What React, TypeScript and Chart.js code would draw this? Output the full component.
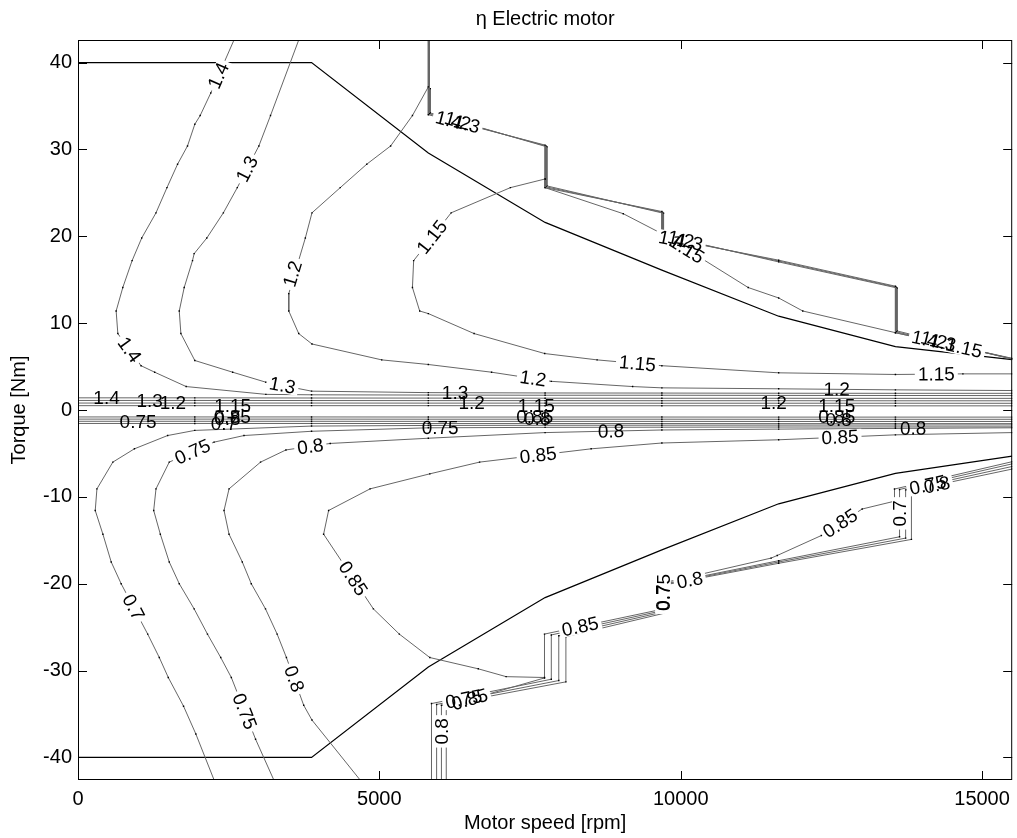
import React, { useEffect, useRef } from 'react';
import { Chart, registerables } from 'chart.js';

Chart.register(...registerables);

const FONT = '"Liberation Sans", Arial, Helvetica, sans-serif';

const titleText = 'η Electric motor';
const xTitle = 'Motor speed [rpm]';
const yTitle = 'Torque [Nm]';

const xTicks = [0, 5000, 10000, 15000];
const yTicks = [-40, -30, -20, -10, 0, 10, 20, 30, 40];
const speedRange = [0, 15500];
const torqueRange = [-42.6, 42.6];

// max torque envelope
const envTop = [[0, 40], [3875, 40], [5812.5, 29.6], [7750, 21.6], [9687.5, 16.1], [11625, 10.8], [13562.5, 7.3], [15500, 5.8]];
const envBottom = [[0, -40], [3875, -40], [5812.5, -29.6], [7750, -21.6], [9687.5, -16.1], [11625, -10.8], [13562.5, -7.3], [15500, -5.3]];

// motor-side contours
const c14 = [[2588, 42.6], [2203, 36.5], [2027, 33.9], [1938, 32.9], [1817, 30.4], [1652, 28.3], [1476, 25.6], [1294, 22.7], [1057, 19.8], [898, 17.2], [743, 14.1], [633, 11.4], [661, 8.8], [1046, 5.1], [1272, 4.35], [1795, 2.7], [3117, 1.8], [3875, 1.75], [5812.5, 1.72], [7750, 1.7], [9687.5, 1.7], [11625, 1.68], [13562.5, 1.67], [15500, 1.66]];
const c13 = [[3662, 42.6], [3194, 33.9], [3001, 30.4], [2643, 25.6], [2412, 22.7], [2137, 19.8], [1927, 18.0], [1900, 17.2], [1762, 14.1], [1680, 11.4], [1707, 8.8], [1938, 5.7], [2566, 4.35], [3117, 3.2], [3875, 2.17], [5812.5, 2.0], [7750, 1.96], [9687.5, 1.95], [11625, 1.93], [13562.5, 1.92], [15500, 1.92]];
const c12 = [[5812.5, 37.2], [5549, 33.9], [5187, 30.4], [4791, 28.3], [4351, 25.6], [3882, 22.7], [3772, 19.8], [3497, 13.4], [3497, 11.4], [3662, 8.8], [3882, 7.6], [5039, 5.77], [5812.5, 5.24], [6862, 4.35], [7853, 3.3], [9202, 2.7], [9687.5, 2.55], [11625, 2.44], [13562.5, 2.32], [15500, 2.24]];
const c115 = [[7750, 26.6], [7174, 25.6], [6191, 22.7], [5569, 17.2], [5549, 14.1], [5669, 11.4], [5812.5, 11.1], [6572, 8.8], [7743, 6.5], [8613, 5.77], [9687.5, 5.1], [11625, 4.28], [13562.5, 4.09], [14682, 4.16], [15500, 4.16]];
const c115b = [[7750, 26.6], [7750, 25.6], [9047, 22.6], [9687.5, 20.3], [11120, 14.1], [11625, 12.9], [12025, 11.4], [13562.5, 8.9], [15500, 5.9]];
const s14 = [[5812.5, 42.6], [5812.5, 34.0], [7750, 30.5], [7750, 25.6], [9687.5, 22.85], [9687.5, 19.9], [11625, 17.25], [13562.5, 14.25], [13562.5, 8.9], [15500, 5.95]];
const s13 = [[5830, 42.6], [5830, 34.1], [7765, 30.4], [7765, 25.7], [9700, 22.75], [9700, 20.0], [11625, 17.15], [13575, 14.15], [13575, 9.0], [15500, 5.9]];
const s12 = [[5845, 37.0], [5845, 34.2], [7780, 30.3], [7780, 25.8], [9715, 22.65], [9715, 20.1], [11625, 17.05], [13590, 14.05], [13590, 9.1], [15500, 5.85]];
const bu14 = [[0, 1.4], [1937.5, 1.4], [3875, 1.38], [5812.5, 1.37], [7750, 1.36], [9687.5, 1.35], [11625, 1.35], [13562.5, 1.34], [15500, 1.34]];
const bu13 = [[0, 1.1], [1937.5, 1.1], [3875, 1.09], [5812.5, 1.08], [7750, 1.08], [9687.5, 1.07], [11625, 1.07], [13562.5, 1.06], [15500, 1.06]];
const bu12 = [[0, 0.8], [1937.5, 0.8], [3875, 0.8], [5812.5, 0.79], [7750, 0.79], [9687.5, 0.78], [11625, 0.78], [13562.5, 0.78], [15500, 0.77]];
const bu115 = [[0, 0.5], [1937.5, 0.5], [3875, 0.5], [5812.5, 0.5], [7750, 0.49], [9687.5, 0.49], [11625, 0.49], [13562.5, 0.48], [15500, 0.48]];

// generator-side contours
const bd085 = [[0, -0.8], [1937.5, -0.8], [3875, -0.8], [5812.5, -0.81], [7750, -0.81], [9687.5, -0.81], [11625, -0.82], [13562.5, -0.82], [15500, -0.82]];
const bd08 = [[0, -1.05], [1937.5, -1.05], [3875, -1.05], [5812.5, -1.06], [7750, -1.06], [9687.5, -1.06], [11625, -1.07], [13562.5, -1.07], [15500, -1.07]];
const bd075 = [[0, -1.3], [1937.5, -1.3], [3875, -1.3], [5812.5, -1.31], [7750, -1.31], [9687.5, -1.31], [11625, -1.32], [13562.5, -1.32], [15500, -1.32]];
const bd07 = [[0, -1.55], [1937.5, -1.55], [3875, -1.55], [5812.5, -1.56], [7750, -1.56], [9687.5, -1.56], [11625, -1.57], [13562.5, -1.57], [15500, -1.57]];
const c07 = [[2258, -42.6], [1955, -37.3], [1751, -34.1], [1498, -30.8], [1349, -28.5], [1156, -25.8], [716, -20.0], [551, -17.5], [413, -14.3], [286, -11.57], [314, -9.08], [578, -6.0], [936, -4.47], [1487, -2.94], [1937.5, -2.35], [3875, -1.85], [5812.5, -1.78], [7750, -1.76], [9687.5, -1.75], [11625, -1.74], [13562.5, -1.73], [15500, -1.72]];
const c075 = [[3249, -42.6], [2946, -37.9], [2544, -30.8], [2368, -28.5], [2148, -25.8], [1927, -22.9], [1680, -20.0], [1514, -17.5], [1366, -14.3], [1256, -11.57], [1294, -9.08], [1514, -6.0], [2258, -3.7], [2754, -2.94], [3875, -2.45], [5812.5, -2.05], [7750, -2.0], [9687.5, -1.98], [11625, -1.96], [13562.5, -1.95], [15500, -1.94]];
const c08 = [[4681, -42.6], [3882, -35.7], [3745, -34.0], [3458, -28.5], [3304, -25.8], [3111, -22.9], [2875, -20.0], [2726, -17.5], [2506, -14.3], [2423, -11.57], [2506, -9.08], [3029, -6.0], [3450, -4.6], [4185, -3.85], [5812.5, -3.25], [7750, -2.6], [9687.5, -2.3], [11625, -2.2], [13562.5, -2.12], [15500, -2.05]];
const c085 = [[15500, -2.6], [13562.5, -2.86], [11625, -3.43], [9687.5, -3.8], [8514, -4.47], [6663, -6.0], [5837, -7.35], [4846, -9.08], [4158, -11.57], [4075, -14.3], [4901, -22.9], [5331, -25.8], [5837, -28.5], [6641, -29.8], [7103, -30.7], [7740, -30.8], [7740, -25.8], [9685, -22.95], [9685, -19.95], [11500, -17.05], [11602, -16.75], [12334, -14.45], [13011, -11.4], [13547, -10.5], [13547, -9.1], [15500, -5.95]];
const t07 = [[5865, -42.6], [5865, -33.8], [7853, -31.0], [7853, -25.9], [9700, -23.1], [9700, -20.05], [11625, -17.35], [13631, -14.6], [13631, -9.15], [15500, -6.2]];
const t075 = [[5950, -42.6], [5950, -33.9], [7977, -31.15], [7977, -26.0], [9712, -23.25], [9712, -20.1], [11625, -17.5], [13732, -14.75], [13732, -9.2], [15500, -6.5]];
const t08 = [[6030, -42.6], [6030, -34.0], [8095, -31.3], [8095, -26.1], [9725, -23.4], [9725, -20.15], [11625, -17.65], [13828, -14.9], [13828, -9.25], [15500, -6.8]];
const t085b = [[6110, -42.6], [6110, -34.1], [7740, -30.85]];

const contourLines: [string, number[][]][] = [
  ['c14', c14], ['c13', c13], ['c12', c12], ['c115', c115], ['c115b', c115b],
  ['s14', s14], ['s13', s13], ['s12', s12],
  ['bu14', bu14], ['bu13', bu13], ['bu12', bu12], ['bu115', bu115],
  ['bd085', bd085], ['bd08', bd08], ['bd075', bd075], ['bd07', bd07],
  ['c07', c07], ['c075', c075], ['c08', c08], ['c085', c085],
  ['t07', t07], ['t075', t075], ['t08', t08], ['t085b', t085b],
];

// contour labels
const labelText = ['1.4', '1.4', '1.3', '1.3', '1.2', '1.2', '1.2', '1.15', '1.15', '1.15', '1.15',
  '1.4', '1.2', '1.3', '1.4', '1.2', '1.3', '1.4', '1.2', '1.3', '1.15',
  '1.4', '1.3', '1.2', '1.15', '1.3', '1.2', '1.15', '1.2', '1.15',
  '0.75', '0.85', '0.8', '0.7', '0.75', '0.85', '0.8', '0.85', '0.8', '0.8', '0.8',
  '0.7', '0.75', '0.75', '0.8', '0.8', '0.85', '0.85', '0.85',
  '0.85', '0.85', '0.7', '0.75', '0.8', '0.7', '0.75', '0.8', '0.85', '0.75', '0.8'];
const labelX = [2330, 854, 2803, 3392, 3560, 7550, 12589, 5874, 9282, 14241, 10100,
  6150, 6300, 6450, 9850, 10000, 10150, 14050, 14200, 14350, 14700,
  474, 1190, 1575, 2566, 6256, 6531, 7605, 11542, 12589,
  997, 2560, 2480, 2420, 6008, 7578, 7620, 12589, 12620, 8844, 13855,
  921, 1900, 2765, 3586, 3855, 4565, 7633, 12644,
  8332, 12645, 9700, 9712, 10150, 13631, 14100, 14250, 6500, 6400, 6030];
const labelY = [38.5, 6.94, 27.75, 2.83, 15.67, 3.62, 2.38, 19.9, 5.35, 4.13, 18.5,
  33.39, 33.28, 32.91, 19.68, 19.65, 19.33, 8.16, 8.06, 7.75, 7.14,
  1.4, 1.1, 0.8, 0.5, 1.99, 0.79, 0.49, 0.78, 0.49,
  -1.3, -0.8, -1.05, -1.55, -2.04, -0.81, -1.06, -0.82, -1.07, -2.43, -2.11,
  -22.7, -4.81, -34.7, -30.95, -4.19, -19.4, -5.2, -3.13,
  -24.93, -13.05, -21.6, -21.0, -19.59, -11.9, -8.64, -8.63, -33.32, -33.29, -37.0];
const labelOn = ['c14', 'c14', 'c13', 'c13', 'c12', 'c12', 'c12', 'c115', 'c115', 'c115', 'c115b',
  's14', 's12', 's13', 's14', 's12', 's13', 's14', 's12', 's13', 'c115b',
  'bu14', 'bu13', 'bu12', 'bu115', 'c13', 'bu12', 'bu115', 'bu12', 'bu115',
  'bd075', 'bd085', 'bd08', 'bd07', 'c075', 'bd085', 'bd08', 'bd085', 'bd08', 'c08', 'c08',
  'c07', 'c075', 'c075', 'c08', 'c08', 'c085', 'c085', 'c085',
  'c085', 'c085', 't07', 't075', 't08', 't07', 't075', 't08', 't085b', 't075', 't08'];

const lineByName: Record<string, number[][]> = {};
contourLines.forEach(([n, p]) => { lineByName[n] = p; });

function segAngle(xs: any, ys: any, pts: number[][], px: number, py: number) {
  let best = Infinity;
  let ang = 0;
  for (let i = 0; i < pts.length - 1; i++) {
    const ax = xs.getPixelForValue(pts[i][0]);
    const ay = ys.getPixelForValue(pts[i][1]);
    const bx = xs.getPixelForValue(pts[i + 1][0]);
    const by = ys.getPixelForValue(pts[i + 1][1]);
    const dx = bx - ax;
    const dy = by - ay;
    const l2 = dx * dx + dy * dy;
    let t = l2 > 0 ? ((px - ax) * dx + (py - ay) * dy) / l2 : 0;
    t = Math.max(0, Math.min(1, t));
    const cx = ax + t * dx;
    const cy = ay + t * dy;
    const d = (px - cx) * (px - cx) + (py - cy) * (py - cy);
    if (d < best) {
      best = d;
      ang = Math.atan2(dy, dx);
    }
  }
  if (ang > Math.PI / 2 + 1e-6) ang -= Math.PI;
  if (ang < -Math.PI / 2 - 1e-6) ang += Math.PI;
  return ang;
}

const decor = {
  id: 'decor',
  afterDatasetsDraw(chart: any) {
    const { ctx, chartArea: a, scales } = chart;
    const xs = scales.x;
    const ys = scales.y;
    ctx.save();
    ctx.font = `19px ${FONT}`;
    const items = labelText.map((t, i) => {
      const px = xs.getPixelForValue(labelX[i]);
      const py = ys.getPixelForValue(labelY[i]);
      const ang = segAngle(xs, ys, lineByName[labelOn[i]], px, py);
      const w = ctx.measureText(t).width;
      return { t, px, py, ang, w, bg: Math.abs(labelY[i]) > 2.6 };
    });
    ctx.save();
    ctx.beginPath();
    ctx.rect(a.left, a.top, a.right - a.left, a.bottom - a.top);
    ctx.clip();
    for (const it of items) {
      if (!it.bg) continue;
      ctx.save();
      ctx.translate(it.px, it.py);
      ctx.rotate(it.ang);
      ctx.fillStyle = '#ffffff';
      ctx.fillRect(-it.w / 2 - 3, -7.5, it.w + 6, 15);
      ctx.restore();
    }
    ctx.fillStyle = '#000000';
    ctx.textAlign = 'center';
    ctx.textBaseline = 'middle';
    for (const it of items) {
      ctx.save();
      ctx.translate(it.px, it.py);
      ctx.rotate(it.ang);
      ctx.fillText(it.t, 0, 1);
      ctx.restore();
    }
    ctx.restore();

    // inward ticks
    ctx.strokeStyle = '#000000';
    ctx.lineWidth = 1;
    ctx.beginPath();
    const tl = 9;
    xTicks.forEach((v) => {
      const x = Math.round(xs.getPixelForValue(v)) + 0.5;
      ctx.moveTo(x, a.bottom);
      ctx.lineTo(x, a.bottom - tl);
      ctx.moveTo(x, a.top);
      ctx.lineTo(x, a.top + tl);
    });
    yTicks.forEach((v) => {
      const y = Math.round(ys.getPixelForValue(v)) + 0.5;
      ctx.moveTo(a.left, y);
      ctx.lineTo(a.left + tl, y);
      ctx.moveTo(a.right, y);
      ctx.lineTo(a.right - tl, y);
    });
    ctx.stroke();
    // frame
    ctx.strokeRect(a.left + 0.5, a.top + 0.5, a.right - a.left - 1, a.bottom - a.top - 1);

    // titles
    ctx.fillStyle = '#000000';
    ctx.font = `20px ${FONT}`;
    ctx.textAlign = 'center';
    ctx.textBaseline = 'alphabetic';
    const cx = (a.left + a.right) / 2;
    ctx.fillText(titleText, cx, 25);
    ctx.fillText(xTitle, cx, 829);
    ctx.save();
    ctx.translate(25, (a.top + a.bottom) / 2);
    ctx.rotate(-Math.PI / 2);
    ctx.fillText(yTitle, 0, 0);
    ctx.restore();
    ctx.restore();
  },
};

export default function App() {
  const ref = useRef<HTMLCanvasElement>(null);
  useEffect(() => {
    const lineSets = contourLines.map(([name, pts]) => ({
      label: name,
      data: pts.map(([x, y]) => ({ x, y })),
      showLine: true,
      borderColor: '#666666',
      borderWidth: 1,
      pointRadius: 1,
      pointStyle: 'rect',
      pointBackgroundColor: '#000000',
      pointBorderWidth: 0,
      fill: false,
      tension: 0,
    }));
    const envSets = [envTop, envBottom].map((pts, i) => ({
      label: i === 0 ? 'envTop' : 'envBottom',
      data: pts.map(([x, y]) => ({ x, y })),
      showLine: true,
      borderColor: '#000000',
      borderWidth: 1.2,
      pointRadius: 0,
      fill: false,
      tension: 0,
    }));
    const tickFont = { family: FONT, size: 20 };
    const chart = new Chart(ref.current as HTMLCanvasElement, {
      type: 'scatter',
      data: { datasets: [...lineSets, ...envSets] as any },
      options: {
        animation: false,
        responsive: false,
        maintainAspectRatio: false,
        events: [],
        layout: { padding: { top: 40, right: 1, left: 0, bottom: 0 } },
        plugins: { legend: { display: false }, tooltip: { enabled: false }, title: { display: false } },
        scales: {
          x: {
            type: 'linear',
            min: speedRange[0],
            max: speedRange[1],
            afterBuildTicks: (s: any) => { s.ticks = xTicks.map((v) => ({ value: v })); },
            afterFit: (s: any) => { s.height = 58; },
            ticks: { callback: (v: any) => String(v), font: tickFont, color: '#000', padding: 7, maxRotation: 0, autoSkip: false },
            grid: { display: false, drawTicks: false },
            border: { display: false },
          },
          y: {
            type: 'linear',
            min: torqueRange[0],
            max: torqueRange[1],
            afterBuildTicks: (s: any) => { s.ticks = yTicks.map((v) => ({ value: v })); },
            afterFit: (s: any) => { s.width = 78; },
            ticks: { callback: (v: any) => String(v), font: tickFont, color: '#000', padding: 6, autoSkip: false },
            grid: { display: false, drawTicks: false },
            border: { display: false },
          },
        },
      } as any,
      plugins: [decor],
    });
    return () => chart.destroy();
  }, []);
  return (
    <div style={{ position: 'absolute', left: 0, top: 0, width: 1017, height: 838, background: '#fff' }}>
      <canvas ref={ref} width={1017} height={838} style={{ display: 'block', width: 1017, height: 838 }} />
    </div>
  );
}
